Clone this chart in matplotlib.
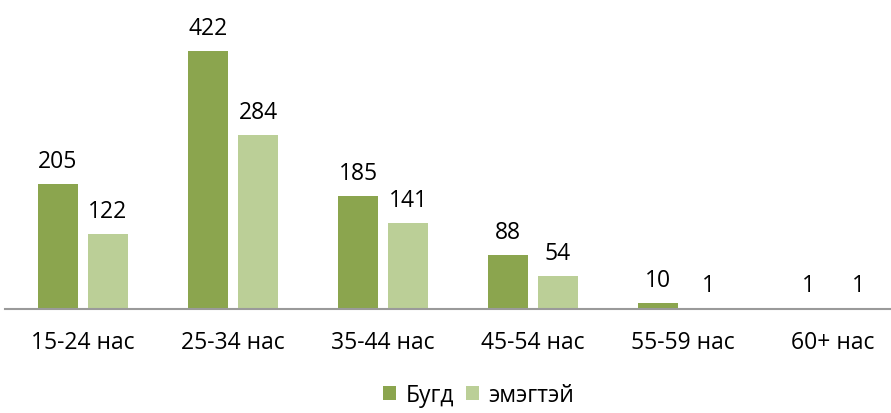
import matplotlib
matplotlib.use("Agg")
import matplotlib.pyplot as plt
import numpy as np

categories = ["15-24 нас", "25-34 нас", "35-44 нас", "45-54 нас", "55-59 нас", "60+ нас"]
bugd = [205, 422, 185, 88, 10, 1]
emegtei = [122, 284, 141, 54, 1, 1]
series_names = ["Бугд", "эмэгтэй"]

plt.rcParams['font.family'] = ['Open Sans', 'DejaVu Sans']

fig = plt.figure(figsize=(8.91, 4.14), dpi=100)
ax = fig.add_axes([0, 104/414, 1, 310/414])
x = np.arange(len(categories))
w = 40/150
off = 25/150
c1 = "#8BA54E"
c2 = "#BBCF97"
b1 = ax.bar(x - off, bugd, w, color=c1, label=series_names[0])
b2 = ax.bar(x + off, emegtei, w, color=c2, label=series_names[1])
for bars, vals in ((b1, bugd), (b2, emegtei)):
    for r, v in zip(bars, vals):
        ax.annotate(str(v), (r.get_x() + r.get_width()/2, v), xytext=(0, 8),
                    textcoords="offset points", ha="center", va="bottom", fontsize=16.5)
ax.set_xlim(-83/150, (891-83)/150)
ax.set_ylim(0, 310/0.611)
for s in ("top", "right", "left"):
    ax.spines[s].set_visible(False)
ax.spines["bottom"].set_color("#9a9a9a")
ax.spines["bottom"].set_linewidth(1.5)
ax.spines["bottom"].set_bounds(-78/150, (891-83)/150)
ax.set_yticks([])
ax.set_xticks(x)
ax.set_xticklabels(categories, fontsize=16.5)
ax.tick_params(axis="x", length=0, pad=15)
fig.legend(handles=[b1, b2], loc="lower center", bbox_to_anchor=(0.537, -0.035), ncol=2,
           frameon=False, fontsize=16.5, handlelength=0.6, handleheight=0.6,
           columnspacing=0.5, handletextpad=0.4)
fig.savefig("out.png", dpi=100)
